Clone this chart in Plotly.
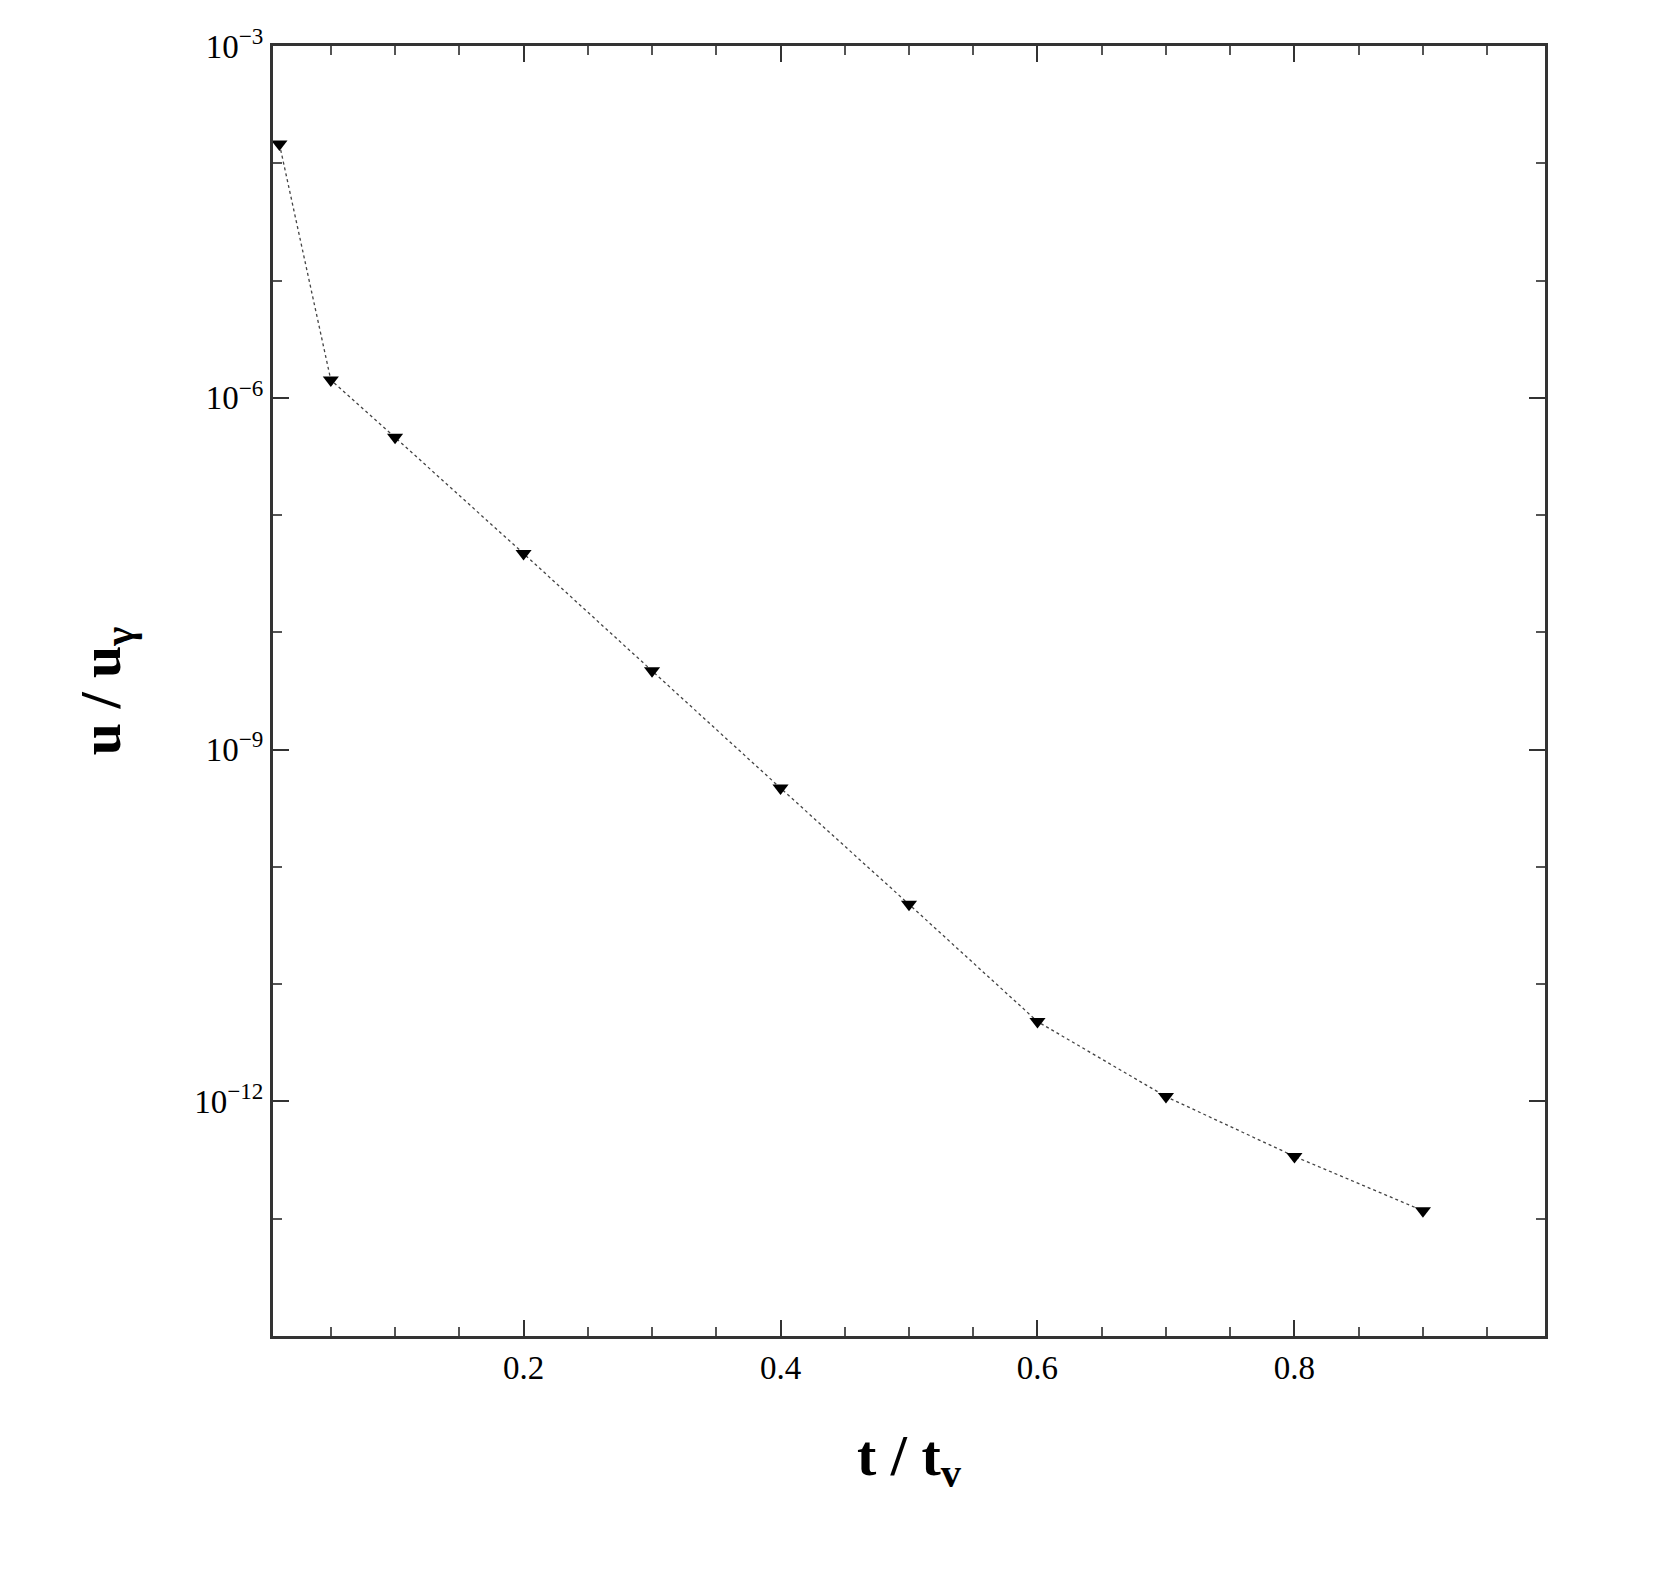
import plotly.graph_objects as go

t = [0.01, 0.05, 0.1, 0.2, 0.3, 0.4, 0.5, 0.6, 0.7, 0.8, 0.9]
u = [1.46e-4, 1.42e-6, 4.6e-7, 4.7e-8, 4.7e-9, 4.7e-10, 4.8e-11, 4.8e-12, 1.1e-12, 3.4e-13, 1.17e-13]

x_ticks = [0.2, 0.4, 0.6, 0.8]
x_minor = [0.05, 0.1, 0.15, 0.25, 0.3, 0.35, 0.45, 0.5, 0.55, 0.65, 0.7, 0.75, 0.85, 0.9, 0.95]
y_exps = [-3, -6, -9, -12]

font = "Liberation Serif"
fig = go.Figure(go.Scatter(
    x=t, y=u, mode="lines+markers",
    line=dict(color="#444", width=1.3, dash="dot"),
    marker=dict(symbol="triangle-down", size=14, color="black"),
))

ax_common = dict(showline=True, linecolor="#333", linewidth=3, mirror="ticks",
                 ticks="inside", ticklen=16, tickwidth=2, tickcolor="#333",
                 showgrid=False, zeroline=False,
                 tickfont=dict(family=font, size=33, color="black"))
fig.update_xaxes(range=[0.005, 0.995], tickvals=x_ticks,
                 ticktext=[f"{v:.1f}" for v in x_ticks],
                 minor=dict(tickvals=x_minor, ticks="inside", ticklen=9, tickwidth=2, tickcolor="#555"),
                 title=dict(text="<b>t / t<sub>v</sub></b>", font=dict(family=font, size=58, color="black"), standoff=50),
                 **ax_common)
fig.update_yaxes(type="log", range=[-14, -3],
                 tickvals=[10.0**e for e in y_exps],
                 ticktext=[f"10<sup>\u2212{-e}</sup>" for e in y_exps],
                 minor=dict(tickvals=[10.0**e for e in range(-13, -3)], ticks="inside", ticklen=9, tickwidth=2, tickcolor="#555"),
                 title=dict(text="<b>u / u<sub>\u03b3</sub></b>", font=dict(family=font, size=58, color="black"), standoff=55),
                 **ax_common)
fig.update_layout(width=1655, height=1590, plot_bgcolor="white", paper_bgcolor="white",
                  margin=dict(l=265, r=118, t=38, b=262), showlegend=False)
fig.write_html("out.html")
